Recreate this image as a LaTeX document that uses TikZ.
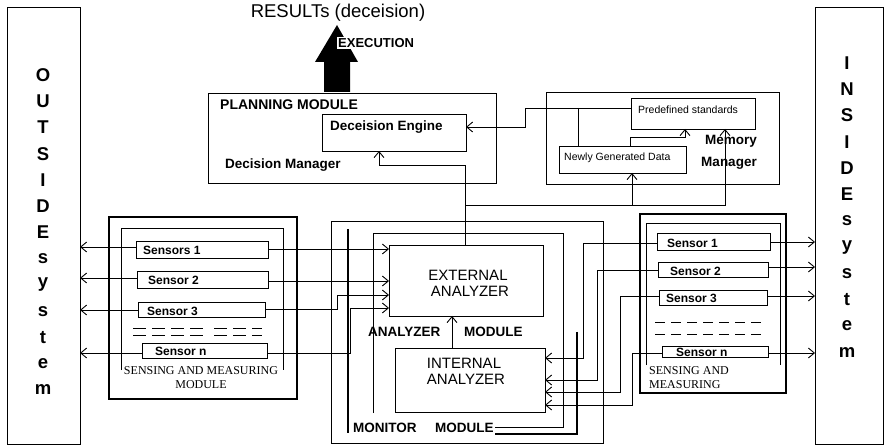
\documentclass[tikz,border=0pt]{standalone}
\usepackage{fontspec}
\setmainfont{Liberation Sans}
\newfontfamily\serifs{Liberation Serif}
\usetikzlibrary{arrows.meta}
\begin{document}
\begin{tikzpicture}[x=1pt,y=-1pt,
  ln/.style={line width=0.9pt},
  box/.style={draw,line width=0.9pt,inner sep=0pt,outer sep=0pt},
  tbox/.style={draw,line width=2.2pt,inner sep=0pt,outer sep=0pt},
  thickbar/.style={line width=2.4pt},
  arr/.style={line width=0.9pt,-{Straight Barb[length=6pt,width=10pt,line width=0.9pt]}},
  lbl/.style={inner sep=0pt,font=\bfseries\fontsize{13.5}{15}\selectfont},
  sens/.style={inner sep=0pt,anchor=west,font=\bfseries\fontsize{12}{14}\selectfont},
  small/.style={inner sep=0pt,anchor=west,font=\fontsize{10.5}{12}\selectfont},
  anl/.style={inner sep=0pt,font=\fontsize{15}{17}\selectfont},
  serl/.style={inner sep=0pt,font=\serifs\fontsize{12}{14}\selectfont},
  big/.style={inner sep=0pt,font=\bfseries\fontsize{18.5}{20}\selectfont},
  dsh/.style={line width=0.9pt}
]
\useasboundingbox (0,0) rectangle (889,446);
\fill[white] (0,0) rectangle (889,446);

% side boxes
\node[box,minimum width=73pt,minimum height=437pt] (outside) at (43.5,225.5) {};
\node[box,minimum width=68pt,minimum height=437pt] (inside) at (849,225.5) {};
\foreach \l [count=\i] in {O,U,T,S,I,D,E,s,y,s,t,e,m}
  \node[big] (out\i) at (43,{75+26.25*(\i-1)}) {\l};
\foreach \l [count=\i] in {I,N,S,I,D,E,s,y,s,t,e,m}
  \node[big] (ins\i) at (847,{63+26.3*(\i-1)}) {\l};

% results / execution
\node[inner sep=0pt,font=\fontsize{18.5}{20}\selectfont] (results) at (338,13) {RESULTs (deceision)};
\fill (324,92) -- (324,62) -- (315,62) -- (337,25) -- (358,62) -- (350,62) -- (350,92) -- cycle;
\node[inner sep=1pt,fill=white,anchor=west,font=\bfseries\fontsize{13}{15}\selectfont] (exec) at (337,43) {EXECUTION};

% planning module
\node[box,minimum width=288pt,minimum height=90pt] (planning) at (352,138) {};
\node[box,minimum width=144pt,minimum height=37pt] (engine) at (394,132.5) {};
\node[lbl,anchor=west,font=\bfseries\fontsize{14}{16}\selectfont] (plt) at (220,105) {PLANNING MODULE};
\node[lbl,anchor=west] (engt) at (330,127) {Deceision Engine};
\node[lbl,anchor=west] (dmt) at (225,165) {Decision Manager};

% memory manager
\node[box,minimum width=233pt,minimum height=92pt] (memory) at (662.5,138) {};
\node[box,minimum width=124pt,minimum height=31pt] (predef) at (693,113.5) {};
\node[box,minimum width=127pt,minimum height=27pt] (newly) at (622.5,159.5) {};
\node[small] (predt) at (638,110) {Predefined standards};
\node[small] (newt) at (564,158) {Newly Generated Data};
\node[lbl] (memt1) at (731,141) {Memory};
\node[lbl] (memt2) at (729,163) {Manager};

% left sensing module
\node[tbox,minimum width=188pt,minimum height=182pt] (sensL) at (203,308) {};
\draw[ln] (121,370) -- (121,228) -- (283,228) -- (283,370);
\node[box,minimum width=132pt,minimum height=17pt] (s1L) at (202,249.5) {};
\node[box,minimum width=131pt,minimum height=17pt] (s2L) at (202.5,279.5) {};
\node[box,minimum width=127pt,minimum height=15pt] (s3L) at (201.5,309.5) {};
\node[box,minimum width=125pt,minimum height=15pt] (snL) at (204.5,350.5) {};
\node[sens] (s1Lt) at (143,250) {Sensors 1};
\node[sens] (s2Lt) at (148,280) {Sensor 2};
\node[sens] (s3Lt) at (147,311) {Sensor 3};
\node[sens] (snLt) at (155,351) {Sensor n};
\draw[dsh,dash pattern=on 13pt off 6pt] (133,328) -- (208,328) (214,328) -- (262,328);
\draw[dsh,dash pattern=on 13pt off 6pt] (133,335) -- (208,335) (214,335) -- (262,335);
\node[serl] (smL1) at (201,371) {SENSING AND MEASURING};
\node[serl] (smL2) at (201,385) {MODULE};

% analyzer / monitor module
\node[box,minimum width=272pt,minimum height=222pt] (anout) at (467,332) {};
\draw[ln] (373,413) -- (373,233) -- (563,233) -- (563,427) -- (495,427);
\draw[thickbar] (348,229) -- (348,433);
\draw[thickbar] (577,332) -- (577,434) -- (495,434);
\node[box,minimum width=154pt,minimum height=71pt] (ext) at (466,280.5) {};
\node[box,minimum width=150pt,minimum height=64pt] (int) at (470,380) {};
\node[anl] (extt1) at (468,275) {EXTERNAL};
\node[anl] (extt2) at (470,291) {ANALYZER};
\node[anl] (intt1) at (464,363) {INTERNAL};
\node[anl] (intt2) at (466,379) {ANALYZER};
\node[lbl,anchor=west] (amt1) at (368,332) {ANALYZER};
\node[lbl,anchor=west] (amt2) at (464,332) {MODULE};
\node[lbl,anchor=west] (mmt1) at (353,428) {MONITOR};
\node[lbl,anchor=west] (mmt2) at (435,428) {MODULE};

% right sensing module
\node[tbox,minimum width=146pt,minimum height=179pt] (sensR) at (713,303.5) {};
\draw[ln] (646,365) -- (646,223) -- (780,223) -- (780,365);
\node[box,minimum width=113pt,minimum height=17pt] (s1R) at (713.5,241.5) {};
\node[box,minimum width=110pt,minimum height=15pt] (s2R) at (713,269.5) {};
\node[box,minimum width=108pt,minimum height=15pt] (s3R) at (713,297.5) {};
\node[box,minimum width=106pt,minimum height=11pt] (snR) at (715,351.5) {};
\node[sens] (s1Rt) at (667,243) {Sensor 1};
\node[sens] (s2Rt) at (670,271) {Sensor 2};
\node[sens] (s3Rt) at (666,298) {Sensor 3};
\node[sens] (snRt) at (676,352) {Sensor n};
\draw[dsh,dash pattern=on 10pt off 6pt] (655,322) -- (762,322);
\draw[dsh,dash pattern=on 10pt off 6pt] (655,334) -- (762,334);
\node[serl,anchor=west] (smR1) at (649,371) {SENSING AND};
\node[serl,anchor=west] (smR2) at (649,385) {MEASURING};

% connectors: left sensors
\draw[arr] (s1L.west |- 0,247) -- (outside.east |- 0,247);
\draw[arr] (s2L.west |- 0,278) -- (outside.east |- 0,278);
\draw[arr] (s3L.west |- 0,310) -- (outside.east |- 0,310);
\draw[arr] (snL.west |- 0,353) -- (outside.east |- 0,353);
\draw[arr] (s1L.east |- 0,249) -- (ext.west |- 0,249);
\draw[arr] (s2L.east |- 0,281) -- (ext.west |- 0,281);
\draw[arr] (s3L.east |- 0,309) -- (337,309) -- (337,295) -- (ext.west |- 0,295);
\draw[arr] (snL.east |- 0,353) -- (350,353) -- (350,308) -- (ext.west |- 0,308);

% analyzer to planning / memory
\draw[arr] (int.north -| 452,0) -- (ext.south -| 452,0);
\draw[arr] (ext.north -| 465,0) -- (465,165) -- (379,165) -- (engine.south -| 379,0);
\coordinate (j1) at (465,205);
\coordinate (j2) at (632,205);
\draw[arr] (j1) -- (725,205) -- (predef.south -| 725,0);
\draw[arr] (j2) -- (newly.south -| 632,0);
\draw[arr] (predef.west |- 0,108) -- (525,108) -- (525,127) -- (engine.east |- 0,127);
\coordinate (j3) at (578,108);
\draw[ln] (j3) -- (newly.north -| 578,0);
\draw[arr] (newly.north -| 630,0) -- (630,137) -- (685,137) -- (predef.south -| 685,0);

% connectors: right sensors
\draw[arr] (s1R.east |- 0,242) -- (inside.west |- 0,242);
\draw[arr] (s2R.east |- 0,267) -- (inside.west |- 0,267);
\draw[arr] (s3R.east |- 0,296) -- (inside.west |- 0,296);
\draw[arr] (snR.east |- 0,353) -- (inside.west |- 0,353);
\draw[arr] (s1R.west |- 0,243) -- (583,243) -- (583,358) -- (int.east |- 0,358);
\draw[arr] (s2R.west |- 0,270) -- (597,270) -- (597,380) -- (int.east |- 0,380);
\draw[arr] (s3R.west |- 0,296) -- (620,296) -- (620,392) -- (int.east |- 0,392);
\draw[arr] (snR.west |- 0,353) -- (632,353) -- (632,405) -- (int.east |- 0,405);
\end{tikzpicture}
\end{document}
